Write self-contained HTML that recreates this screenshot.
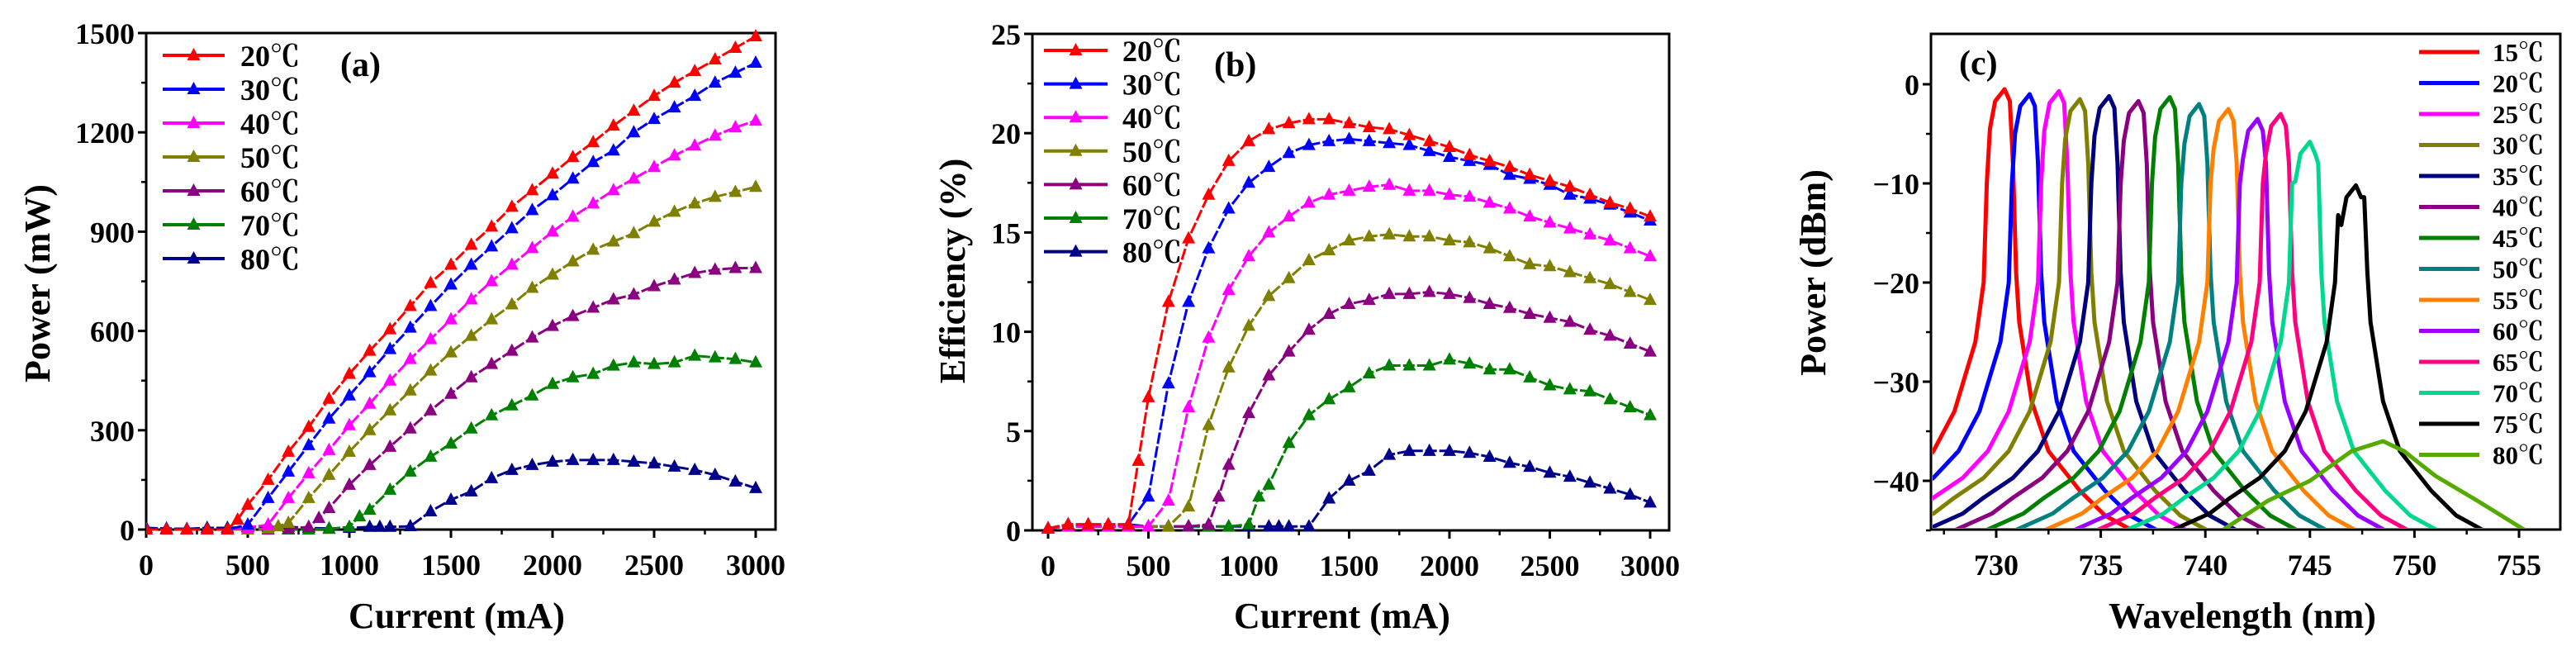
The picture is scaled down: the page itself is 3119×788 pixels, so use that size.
<!DOCTYPE html>
<html><head><meta charset="utf-8"><style>
html,body{margin:0;padding:0;background:#fff;}
svg{display:block;font-family:"Liberation Serif","Noto Serif CJK SC",serif;}
</style></head><body>
<svg id="fig" width="3119" height="788" viewBox="0 0 3119 788" xmlns="http://www.w3.org/2000/svg"></svg>
<script>
// ---------- Panel (a) data ----------
const tempsAB = ['20℃','30℃','40℃','50℃','60℃','70℃','80℃'];
const colorsAB = ['#ff0000','#0000ff','#ff00ff','#808000','#8b0080','#008000','#00008b'];
const aX20=[0,100,200,300,400,450,500,600,700,800,900,1000,1100,1200,1300,1400,1500,1600,1700,1800,1900,2000,2100,2200,2300,2400,2500,2600,2700,2800,2900,3000];
const aY20=[0,0,0,0,0,30,75,150,235,310,395,470,540,605,675,745,800,860,915,975,1025,1075,1125,1170,1220,1265,1310,1350,1385,1420,1455,1490];
const aX30=[0,100,200,300,400,500,600,700,800,900,1000,1100,1200,1300,1400,1500,1600,1700,1800,1900,2000,2100,2200,2300,2400,2500,2600,2700,2800,2900,3000];
const aY30=[0,0,0,0,0,15,95,175,255,335,405,475,545,610,675,740,800,855,910,965,1010,1060,1110,1145,1200,1240,1275,1310,1350,1380,1410];
const aX40=[0,100,200,300,400,500,600,700,800,900,1000,1100,1200,1300,1400,1500,1600,1700,1800,1900,2000,2100,2200,2300,2400,2500,2600,2700,2800,2900,3000];
const aY40=[0,0,0,0,0,5,15,95,170,240,315,380,450,515,575,635,695,750,800,850,900,945,985,1025,1060,1095,1130,1160,1190,1215,1235];
const aX50=[0,100,200,300,400,500,600,650,700,800,900,1000,1100,1200,1300,1400,1500,1600,1700,1800,1900,2000,2100,2200,2300,2400,2500,2600,2700,2800,2900,3000];
const aY50=[0,0,0,0,0,0,3,10,20,95,165,235,300,360,420,480,535,585,635,680,730,770,810,845,870,895,930,960,985,1005,1020,1035];
const aX60=[0,100,200,300,400,500,600,700,800,850,900,1000,1100,1200,1300,1400,1500,1600,1700,1800,1900,2000,2100,2200,2300,2400,2500,2600,2700,2800,2900,3000];
const aY60=[0,0,0,0,0,0,0,2,8,35,65,135,195,250,305,360,410,460,500,540,580,615,645,670,695,710,735,755,775,785,790,790];
const aX70=[0,100,200,300,400,500,600,700,800,900,1000,1050,1100,1200,1300,1400,1500,1600,1700,1800,1900,2000,2100,2200,2300,2400,2500,2600,2700,2800,2900,3000];
const aY70=[0,0,0,0,0,0,0,0,0,2,8,40,60,120,175,220,260,305,345,375,405,440,460,470,495,505,500,505,525,520,515,505];
const aX80=[0,100,200,300,400,500,600,700,800,900,1000,1100,1150,1200,1300,1400,1500,1600,1700,1800,1900,2000,2100,2200,2300,2400,2500,2600,2700,2800,2900,3000];
const aY80=[5,3,2,5,5,8,8,8,5,3,5,8,8,8,10,55,90,115,155,180,195,205,210,210,210,205,200,190,180,165,145,125];
const aXs=[aX20,aX30,aX40,aX50,aX60,aX70,aX80];
const aYs=[aY20,aY30,aY40,aY50,aY60,aY70,aY80];
const aXTicks=[0,500,1000,1500,2000,2500,3000];
const aYTicks=[0,300,600,900,1200,1500];

// ---------- Panel (b) data ----------
const bX20=[0,100,200,300,400,450,500,600,700,800,900,1000,1100,1200,1300,1400,1500,1600,1700,1800,1900,2000,2100,2200,2300,2400,2500,2600,2700,2800,2900,3000];
const bY20=[0.1,0.3,0.3,0.3,0.3,3.5,6.7,11.5,14.7,16.9,18.6,19.6,20.2,20.5,20.7,20.7,20.5,20.3,20.2,19.9,19.6,19.3,18.9,18.6,18.3,17.9,17.6,17.3,16.9,16.5,16.2,15.8];
const bX30=[0,100,200,300,400,500,600,700,800,900,1000,1100,1200,1300,1400,1500,1600,1700,1800,1900,2000,2100,2200,2300,2400,2500,2600,2700,2800,2900,3000];
const bY30=[0.1,0.3,0.3,0.3,0.3,1.7,7.4,11.5,14.2,16.2,17.5,18.3,19.0,19.4,19.6,19.7,19.6,19.5,19.4,19.1,18.8,18.6,18.4,17.9,17.7,17.4,16.9,16.7,16.4,16.0,15.6];
const bX40=[0,100,200,300,400,500,600,700,800,900,1000,1100,1200,1300,1400,1500,1600,1700,1800,1900,2000,2100,2200,2300,2400,2500,2600,2700,2800,2900,3000];
const bY40=[0.1,0.2,0.2,0.2,0.2,0.2,1.5,6.2,9.7,12.1,13.8,15.0,15.8,16.5,16.9,17.1,17.3,17.4,17.1,17.1,16.9,16.8,16.5,16.2,15.8,15.5,15.2,14.9,14.6,14.2,13.8];
const bX50=[0,100,200,300,400,500,600,700,800,900,1000,1100,1200,1300,1400,1500,1600,1700,1800,1900,2000,2100,2200,2300,2400,2500,2600,2700,2800,2900,3000];
const bY50=[0.1,0.2,0.2,0.2,0.2,0.2,0.2,1.2,5.3,8.2,10.3,11.8,12.7,13.6,14.1,14.6,14.8,14.9,14.8,14.8,14.6,14.5,14.2,13.8,13.4,13.3,13.0,12.7,12.4,12.0,11.6];
const bX60=[0,100,200,300,400,500,600,700,800,850,900,1000,1100,1200,1300,1400,1500,1600,1700,1800,1900,2000,2100,2200,2300,2400,2500,2600,2700,2800,2900,3000];
const bY60=[0.1,0.2,0.2,0.2,0.2,0.2,0.2,0.2,0.3,1.7,3.3,5.9,7.8,9.0,10.1,10.9,11.4,11.6,11.9,11.9,12.0,11.9,11.7,11.4,11.2,10.9,10.7,10.5,10.1,9.8,9.4,9.0];
const bX70=[0,100,200,300,400,500,600,700,800,900,1000,1050,1100,1200,1300,1400,1500,1600,1700,1800,1900,2000,2100,2200,2300,2400,2500,2600,2700,2800,2900,3000];
const bY70=[0.1,0.2,0.2,0.2,0.2,0.2,0.2,0.2,0.2,0.2,0.3,1.7,2.3,4.4,5.8,6.6,7.2,7.9,8.3,8.3,8.3,8.6,8.4,8.1,8.1,7.7,7.3,7.1,7.0,6.6,6.2,5.8];
const bX80=[0,100,200,300,400,500,600,700,800,900,1000,1100,1150,1200,1300,1400,1500,1600,1700,1800,1900,2000,2100,2200,2300,2400,2500,2600,2700,2800,2900,3000];
const bY80=[0.1,0.3,0.2,0.2,0.3,0.2,0.2,0.2,0.2,0.2,0.2,0.2,0.2,0.2,0.2,1.6,2.5,3.0,3.8,4.0,4.0,4.0,3.9,3.7,3.4,3.2,2.9,2.7,2.4,2.1,1.8,1.4];
const bXs=[bX20,bX30,bX40,bX50,bX60,bX70,bX80];
const bYs=[bY20,bY30,bY40,bY50,bY60,bY70,bY80];
const bXTicks=[0,500,1000,1500,2000,2500,3000];
const bYTicks=[0,5,10,15,20,25];

// ---------- Panel (c) data ----------
const tempsC=['15℃','20℃','25℃','30℃','35℃','40℃','45℃','50℃','55℃','60℃','65℃','70℃','75℃','80℃'];
const colorsC=['#ff0000','#0000ff','#ff00ff','#808000','#00007f','#8b0080','#008000','#008080','#ff8000','#9900ff','#ff0080','#00d890','#000000','#55aa00'];
const peakNm=[730.4,731.6,733.0,734.0,735.4,736.8,738.3,739.7,741.1,742.5,743.6,745.0,747.2];
const peakDb=[-0.5,-1.0,-0.7,-1.5,-1.2,-1.7,-1.3,-2.0,-2.5,-3.5,-3.0,-5.8,-10.2];
const leftOff=[-8.8,-7,-6,-4.6,-3.4,-2.4,-1.4,-1.0,-0.85,-0.7,-0.45];
const leftDb=[-45,-43.3,-41.7,-39.7,-37,-33,-26,-20,-10,null,null];
const rightOff=[0.25,0.4,0.55,0.7,1.0,1.3,2.1,3.6,4.8,6.1];
const rightDb=[null,-8,-19,-24,-28,-32,-37,-41,-43.5,-45];
const broadNm=[740.8,743,745,747,748.5,749.5,751,753,755.3];
const broadDb=[-45,-42,-40,-37,-36,-37,-39.5,-42,-45];
const cXTicks=[730,735,740,745,750,755];
const cYTicks=[0,-10,-20,-30,-40];

const svg=document.getElementById('fig');
const NS='http://www.w3.org/2000/svg';
function el(tag,attrs,parent){const e=document.createElementNS(NS,tag);for(const k in attrs)e.setAttribute(k,attrs[k]);(parent||svg).appendChild(e);return e;}
function txt(s,attrs,parent){const e=el('text',attrs,parent);e.textContent=s;return e;}

function axes(o){
  const g=el('g',{});
  
  
  const fr=el('rect',{x:o.L,y:o.T,width:o.R-o.L,height:o.B-o.T,fill:'none',stroke:'#000','stroke-width':3},g);
  
  
  for(let i=0;i<o.xTicks.length;i++){
    const v=o.xTicks[i],px=o.sx(v);
    el('line',{x1:px,y1:o.B,x2:px,y2:o.B+10,stroke:'#000','stroke-width':3},g);
    const t=txt(String(v),{x:px,y:o.B+55,'font-size':36,'text-anchor':'middle','font-weight':'bold'},g);
    
    
    if(i<o.xTicks.length-1){const m=o.sx((v+o.xTicks[i+1])/2);el('line',{x1:m,y1:o.B,x2:m,y2:o.B+6,stroke:'#000','stroke-width':2.5},g);}
  }
  for(let i=0;i<o.yTicks.length;i++){
    const v=o.yTicks[i],py=o.sy(v);
    el('line',{x1:o.L-10,y1:py,x2:o.L,y2:py,stroke:'#000','stroke-width':3},g);
    const t=txt(o.fmt?o.fmt(v):String(v),{x:o.L-14,y:py+13,'font-size':36,'text-anchor':'end','font-weight':'bold'},g);
    
    
    if(i<o.yTicks.length-1){const m=o.sy((v+o.yTicks[i+1])/2);el('line',{x1:o.L-6,y1:m,x2:o.L,y2:m,stroke:'#000','stroke-width':2.5},g);}
  }
  if(o.extraYMinor){const m=o.sy(o.extraYMinor);el('line',{x1:o.L-6,y1:m,x2:o.L,y2:m,stroke:'#000','stroke-width':2.5},g);}
  const xt=txt(o.xTitle,{x:o.xtX,y:760,'font-size':44,'text-anchor':'middle','font-weight':'bold'},g);
  
  
  const yt=txt(o.yTitle,{x:0,y:0,'font-size':44,'text-anchor':'middle','font-weight':'bold',transform:`translate(${o.ytX},${o.ytY}) rotate(-90)`},g);
  
  
  const pl=txt(o.label,{x:o.lbX,y:o.lbY,'font-size':42,'font-weight':'bold'},g);
  
  
}
function tri(cx,cy,c,parent){return el('path',{d:`M${cx},${cy-9} L${cx+8},${cy+6} L${cx-8},${cy+6} Z`,fill:c},parent);}

function markerPanel(o,Xs,Ys){
  axes(o);
  const clipId=o.name+'-clip';
  const cp=el('clipPath',{id:clipId});el('rect',{x:o.L,y:o.T-12,width:o.R-o.L+12,height:o.B-o.T+24},cp);
  for(let s=Xs.length-1;s>=0;s--){
    const g=el('g',{'clip-path':`url(#${clipId})`});
    
    
    const pts=Xs[s].map((x,i)=>o.sx(x).toFixed(1)+','+o.sy(Ys[s][i]).toFixed(1)).join(' ');
    el('polyline',{points:pts,fill:'none',stroke:colorsAB[s],'stroke-width':3,'stroke-dasharray':'14,3'},g);
    Xs[s].forEach((x,i)=>{const m=tri(o.sx(x),o.sy(Ys[s][i]),colorsAB[s],g);
      
      });
  }
  const lg=el('g',{});
  
  
  tempsAB.forEach((t,i)=>{
    const y=o.lgY+i*o.lgDy;
    const e=el('g',{},lg);
    
    
    el('line',{x1:o.lgX1,y1:y,x2:o.lgX2,y2:y,stroke:colorsAB[i],'stroke-width':4},e);
    tri((o.lgX1+o.lgX2)/2,y,colorsAB[i],e);
    txt(t,{x:o.lgTX,y:y+13,'font-size':36,'font-weight':'bold'},e);
  });
}

// Panel a
const A={name:'panel-a',L:177,R:939,T:40,B:641};
A.sx=v=>A.L+(v-0)/3000*(915-177);A.sy=v=>A.B-v/1500*(A.B-A.T);
Object.assign(A,{xTicks:aXTicks,yTicks:aYTicks,xTitle:'Current (mA)',yTitle:'Power (mW)',xtX:553,ytX:60,ytY:343,label:'(a)',lbX:412,lbY:92,lgX1:197,lgX2:272,lgY:67,lgDy:41,lgTX:291});
markerPanel(A,aXs,aYs);

// Panel b
const Bp={name:'panel-b',L:1250,R:2021,T:41,B:642};
Bp.sx=v=>1269+v/3000*(1998-1269);Bp.sy=v=>Bp.B-v/25*(Bp.B-Bp.T);
Object.assign(Bp,{xTicks:bXTicks,yTicks:bYTicks,xTitle:'Current (mA)',yTitle:'Efficiency (%)',xtX:1625,ytX:1168,ytY:328,label:'(b)',lbX:1470,lbY:92,lgX1:1264,lgX2:1341,lgY:61,lgDy:40.6,lgTX:1359});
markerPanel(Bp,bXs,bYs);

// Panel c
const C={name:'panel-c',L:2338,R:3100,T:41,B:641};
C.sx=v=>2417+(v-730)/25*(3050-2417);C.sy=v=>102-v/40*(582-102);
Object.assign(C,{xTicks:cXTicks,yTicks:cYTicks,xTitle:'Wavelength (nm)',yTitle:'Power (dBm)',xtX:2715,ytX:2210,ytY:330,label:'(c)',lbX:2372,lbY:90,extraYMinor:-45,fmt:v=>v<0?'\u2212'+(-v):String(v)});
axes(C);
el('line',{x1:C.sx(727.5),y1:C.B,x2:C.sx(727.5),y2:C.B+6,stroke:'#000','stroke-width':2.5});
const cp=el('clipPath',{id:'cclip'});el('rect',{x:C.L+2,y:C.T,width:C.R-C.L-4,height:C.B-C.T-2},cp);
for(let s=0;s<13;s++){
  const p=peakNm[s],h=peakDb[s],pts=[];
  leftOff.forEach((o,i)=>{let d=leftDb[i]===null?(i===leftOff.length-1?h-1.2:h-4):leftDb[i];d=Math.min(d,h-3+(i===leftOff.length-1?1.8:0));pts.push([p+o,d]);});
  pts.push([p,h]);
  rightOff.forEach((o,i)=>{let d=rightDb[i]===null?h-1.2:rightDb[i];d=Math.min(d,h-1.2);pts.push([p+o,d]);});
  const g=el('g',{'clip-path':'url(#cclip)'});
  
  
  el('polyline',{points:pts.map(q=>C.sx(q[0]).toFixed(1)+','+C.sy(q[1]).toFixed(1)).join(' '),fill:'none',stroke:colorsC[s],'stroke-width':5,'stroke-linejoin':'round'},g);
}
{
  const g=el('g',{'clip-path':'url(#cclip)'});
  
  
  el('polyline',{points:broadNm.map((x,i)=>C.sx(x).toFixed(1)+','+C.sy(broadDb[i]).toFixed(1)).join(' '),fill:'none',stroke:colorsC[13],'stroke-width':5,'stroke-linejoin':'round'},g);
}
const lgc=el('g',{});


tempsC.forEach((t,i)=>{
  const y=63+i*37.5;
  const e=el('g',{},lgc);
  
  
  el('line',{x1:2929,y1:y,x2:3002,y2:y,stroke:colorsC[i],'stroke-width':5},e);
  txt(t,{x:3018,y:y+11,'font-size':31,'font-weight':'bold'},e);
});
</script>
</body></html>
